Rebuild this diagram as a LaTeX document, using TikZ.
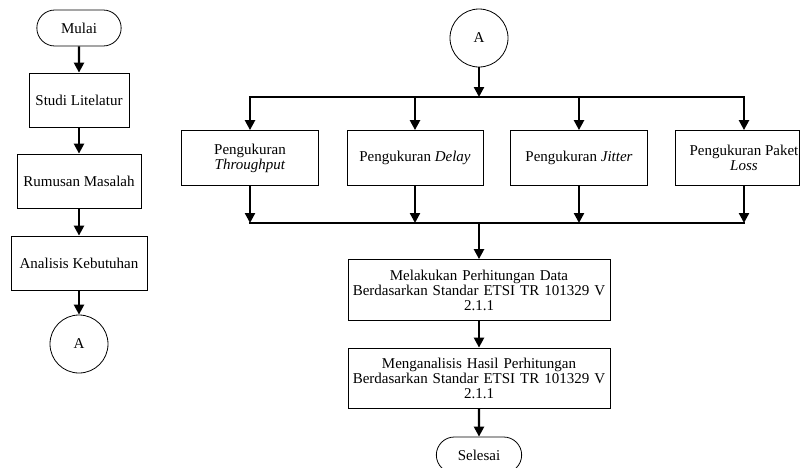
\documentclass[tikz,border=0pt]{standalone}
\usepackage{fontspec}
\setmainfont{Liberation Serif}
\usetikzlibrary{arrows.meta,positioning,shapes.misc}

\begin{document}
\begin{tikzpicture}[x=1pt,y=-1pt,font=\fontsize{15}{15}\selectfont]
      \tikzstyle{proc}=[draw,line width=0.8pt,minimum height=54pt,align=center,inner sep=1pt]
      \tikzstyle{term}=[draw,line width=0.8pt,rounded rectangle,minimum height=36pt,minimum width=91pt]
      \tikzstyle{conn}=[draw,line width=0.8pt,circle,minimum size=58pt,inner sep=0pt]
      \tikzstyle{flow}=[line width=2.3pt,-{Triangle[length=10pt,width=10pt]}]
      \tikzstyle{bus}=[line width=2.3pt]
      \clip (0,0) rectangle (801,467);
      % left column
      \node[term] (mulai) at (79,28) {Mulai};
      \node[proc,minimum width=100pt] (studi) at (79,100) {Studi Litelatur};
      \node[proc,minimum width=124pt] (rumusan) at (79,181) {Rumusan Masalah};
      \node[proc,minimum width=136pt] (analisis) at (79,263) {Analisis Kebutuhan};
      \node[conn] (a1) at (79,344) {A};
      \draw[flow] (mulai) -- (studi);
      \draw[flow] (studi) -- (rumusan);
      \draw[flow] (rumusan) -- (analisis);
      \draw[flow] (analisis) -- (a1);
      % right part
      \node[conn] (a2) at (479,38) {A};
      \coordinate (top) at (479,97);
      \coordinate (bot) at (479,223);
      \node[proc,minimum width=137pt,minimum height=55pt] (thr) at (250,158) {Pengukuran\\\textit{Throughput}};
      \node[proc,minimum width=136pt,minimum height=55pt] (dly) at (415,158) {Pengukuran \textit{Delay}};
      \node[proc,minimum width=137pt,minimum height=55pt] (jit) at (579,158) {Pengukuran \textit{Jitter}};
      \node[proc,minimum width=124pt,minimum height=55pt,anchor=west] (loss) at (675,158) {};
      \node[align=center] (losstxt) at (744,158) {Pengukuran Paket\\\textit{Loss}};
      \draw[flow] (a2) -- (top);
      \draw[bus] ([xshift=-1.15pt]thr.north |- top) -- ([xshift=1.15pt]losstxt.north |- top);
      \foreach \n in {thr,dly,jit,losstxt}
        \draw[flow] (\n.north |- top) -- (\n.north |- loss.north);
      \foreach \n in {thr,dly,jit,losstxt}
        \draw[flow] (\n.south |- loss.south) -- (\n.south |- bot);
      \draw[bus] ([xshift=-1.15pt]thr.south |- bot) -- ([xshift=1.15pt]losstxt.south |- bot);
      \node[proc,text width=260pt,minimum height=61pt] (hitung) at (479,290) {Melakukan Perhitungan Data\\Berdasarkan Standar ETSI TR 101329 V\\2.1.1};
      \node[proc,text width=260pt,minimum height=60pt] (hasil) at (479,378) {Menganalisis Hasil Perhitungan\\Berdasarkan Standar ETSI TR 101329 V\\2.1.1};
      \node[term,minimum width=92pt] (selesai) at (479,455) {Selesai};
      \draw[flow] (bot) -- (hitung);
      \draw[flow] (hitung) -- (hasil);
      \draw[flow] (hasil) -- (selesai);
    \end{tikzpicture}
\end{document}
